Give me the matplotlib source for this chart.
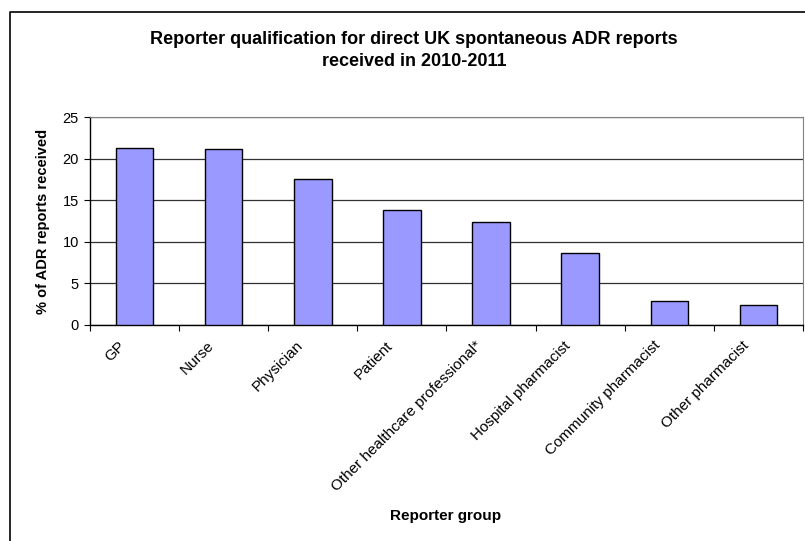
import numpy as np
import matplotlib.pyplot as plt
from matplotlib.lines import Line2D

# Reporter groups and share of ADR reports (%)
groups = ["GP", "Nurse", "Physician", "Patient",
          "Other healthcare professional*", "Hospital pharmacist",
          "Community pharmacist", "Other pharmacist"]
percent = [21.3, 21.1, 17.6, 13.8, 12.4, 8.6, 2.9, 2.4]
yticks = [0, 5, 10, 15, 20, 25]

plt.rcParams['font.family'] = ['Liberation Sans', 'DejaVu Sans']

fig = plt.figure(figsize=(8.05, 5.41), dpi=100)
ax = fig.add_axes([0.1118, 0.3993, 0.8857, 0.3844])

x = np.arange(len(groups))
ax.bar(x, percent, width=0.42, color='#9999FF', edgecolor='black',
       linewidth=1.0, zorder=3)

ax.set_xlim(-0.5, len(groups) - 0.5)
ax.set_ylim(0, 25)
ax.set_yticks(yticks)
ax.yaxis.grid(True, color='#303030', linewidth=0.9, zorder=0)

# tick marks on category boundaries, labels under the categories
ax.set_xticks(np.arange(len(groups) + 1) - 0.5)
ax.set_xticklabels([])
ax.tick_params(axis='x', length=4, width=0.8, direction='out')
ax.tick_params(axis='y', length=4, width=0.8, direction='out',
               labelsize=10.5, pad=4)
for i, g in enumerate(groups):
    ax.text(i - 0.13, -2.2, g, rotation=45, rotation_mode='anchor',
            ha='right', va='center', fontsize=11)

for s in ['top', 'right']:
    ax.spines[s].set_color('#808080')
for s in ['left', 'bottom']:
    ax.spines[s].set_color('black')
    ax.spines[s].set_linewidth(1.0)

ax.set_ylabel('% of ADR reports received', fontsize=10.5, fontweight='bold',
              labelpad=9)
fig.text(0.554, 0.046, 'Reporter group', ha='center', va='center',
         fontsize=11, fontweight='bold')
fig.text(0.514, 0.906,
         'Reporter qualification for direct UK spontaneous ADR reports\n'
         'received in 2010-2011',
         ha='center', va='center', fontsize=13, fontweight='bold',
         linespacing=1.4)

# chart frame (left and top edges)
fig.add_artist(Line2D([0.0124, 0.0124, 1.0], [0.0, 0.978, 0.978],
                      color='black', linewidth=1.2))

fig.savefig('out.png', dpi=100)
